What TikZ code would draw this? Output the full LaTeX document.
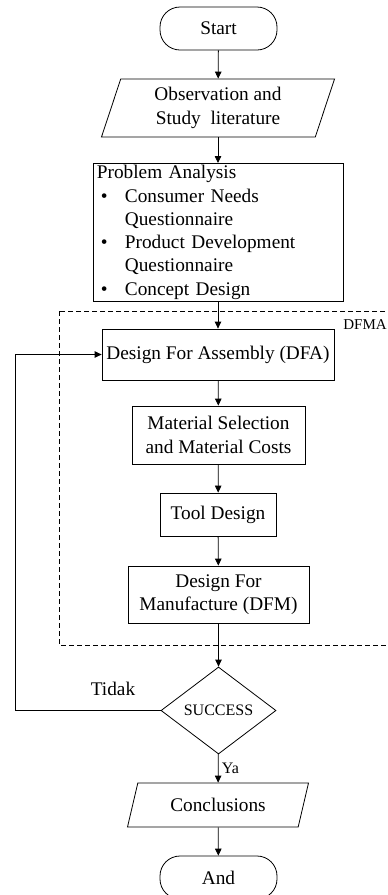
\documentclass[tikz,border=0pt]{standalone}
\usepackage{fontspec}
\setmainfont{Liberation Serif}
\usetikzlibrary{shapes.geometric,arrows.meta}
\begin{document}
\begin{tikzpicture}[x=1pt,y=-1pt,line width=0.8pt,>={Triangle[length=7pt,width=6.5pt]},
  font=\fontsize{19.3}{23.3}\selectfont]
\tikzstyle{term}=[draw, rectangle, rounded corners=20pt, minimum width=117pt, minimum height=43pt]
\tikzstyle{io}=[draw, trapezium, trapezium left angle=68, trapezium right angle=112, trapezium stretches body, align=center, inner xsep=2pt]
\tikzstyle{proc}=[draw, rectangle, align=center, inner sep=2pt]
\tikzstyle{dec}=[draw, diamond, aspect=1.32, minimum width=115pt, minimum height=87pt, inner sep=0pt, font=\fontsize{16}{18}\selectfont]
\tikzstyle{tx}=[draw=none, fill=none]
\useasboundingbox (0,0) rectangle (388,895);

\node[term] (S) at (218.5,28.5) {Start};
\node[io, minimum width=233pt, minimum height=58pt] (OB) at (218,108) {Observation and\\Study\ \ literature};
\node[proc, anchor=north west, text width=243pt, align=left, inner xsep=3.5pt, inner ysep=0pt, minimum height=138pt] (PA) at (93,163) {%
Problem Analysis\\
\hspace*{4pt}\makebox[24pt][l]{\textbullet}Consumer Needs\\
\hspace*{28pt}Questionnaire\\
\hspace*{4pt}\makebox[24pt][l]{\textbullet}Product Development\\
\hspace*{28pt}Questionnaire\\
\hspace*{4pt}\makebox[24pt][l]{\textbullet}Concept Design};

% DFMA group
\draw[dash pattern=on 5pt off 3pt, line width=0.7pt] (59,311) rectangle (400,645);
\node[tx, anchor=west, inner sep=0pt, font=\fontsize{15}{18}\selectfont] (DFMA) at (343,325) {DFMA};

\node[proc, minimum width=232pt, minimum height=51pt] (DFA) at (218,354.5) {Design For Assembly (DFA)};
\node[proc, minimum width=173pt, minimum height=58pt] (MS) at (218.5,435) {Material Selection\\and Material Costs};
\node[proc, minimum width=116pt, minimum height=43pt] (TD) at (218,514.5) {Tool Design};
\node[proc, minimum width=181pt, minimum height=57pt] (DFM) at (218.5,594.5) {Design For\\Manufacture (DFM)};

\node[dec] (SC) at (218.5,710.5) {SUCCESS};
\node[io, trapezium left angle=63, trapezium right angle=117, minimum width=181pt, minimum height=44pt] (CL) at (218,805) {Conclusions};
\node[term] (E) at (218.5,877.5) {And};

\coordinate (L) at (15,710.5);

\draw[->] (S) -- (OB);
\draw[->] (OB) -- (OB |- PA.north);
\draw[->] (PA.south -| DFA) -- (DFA);
\draw[->] (DFA) -- (MS);
\draw[->] (MS) -- (TD);
\draw[->] (TD) -- (DFM);
\draw[->] (DFM) -- (SC);
\draw[->] (SC) -- node[right, font=\fontsize{16}{18}\selectfont]{Ya} (CL);
\draw[->] (CL) -- (E);
\draw[->] (SC) -- (L) |- (DFA);
\node[tx] (T) at (113,689) {Tidak};
\end{tikzpicture}
\end{document}
